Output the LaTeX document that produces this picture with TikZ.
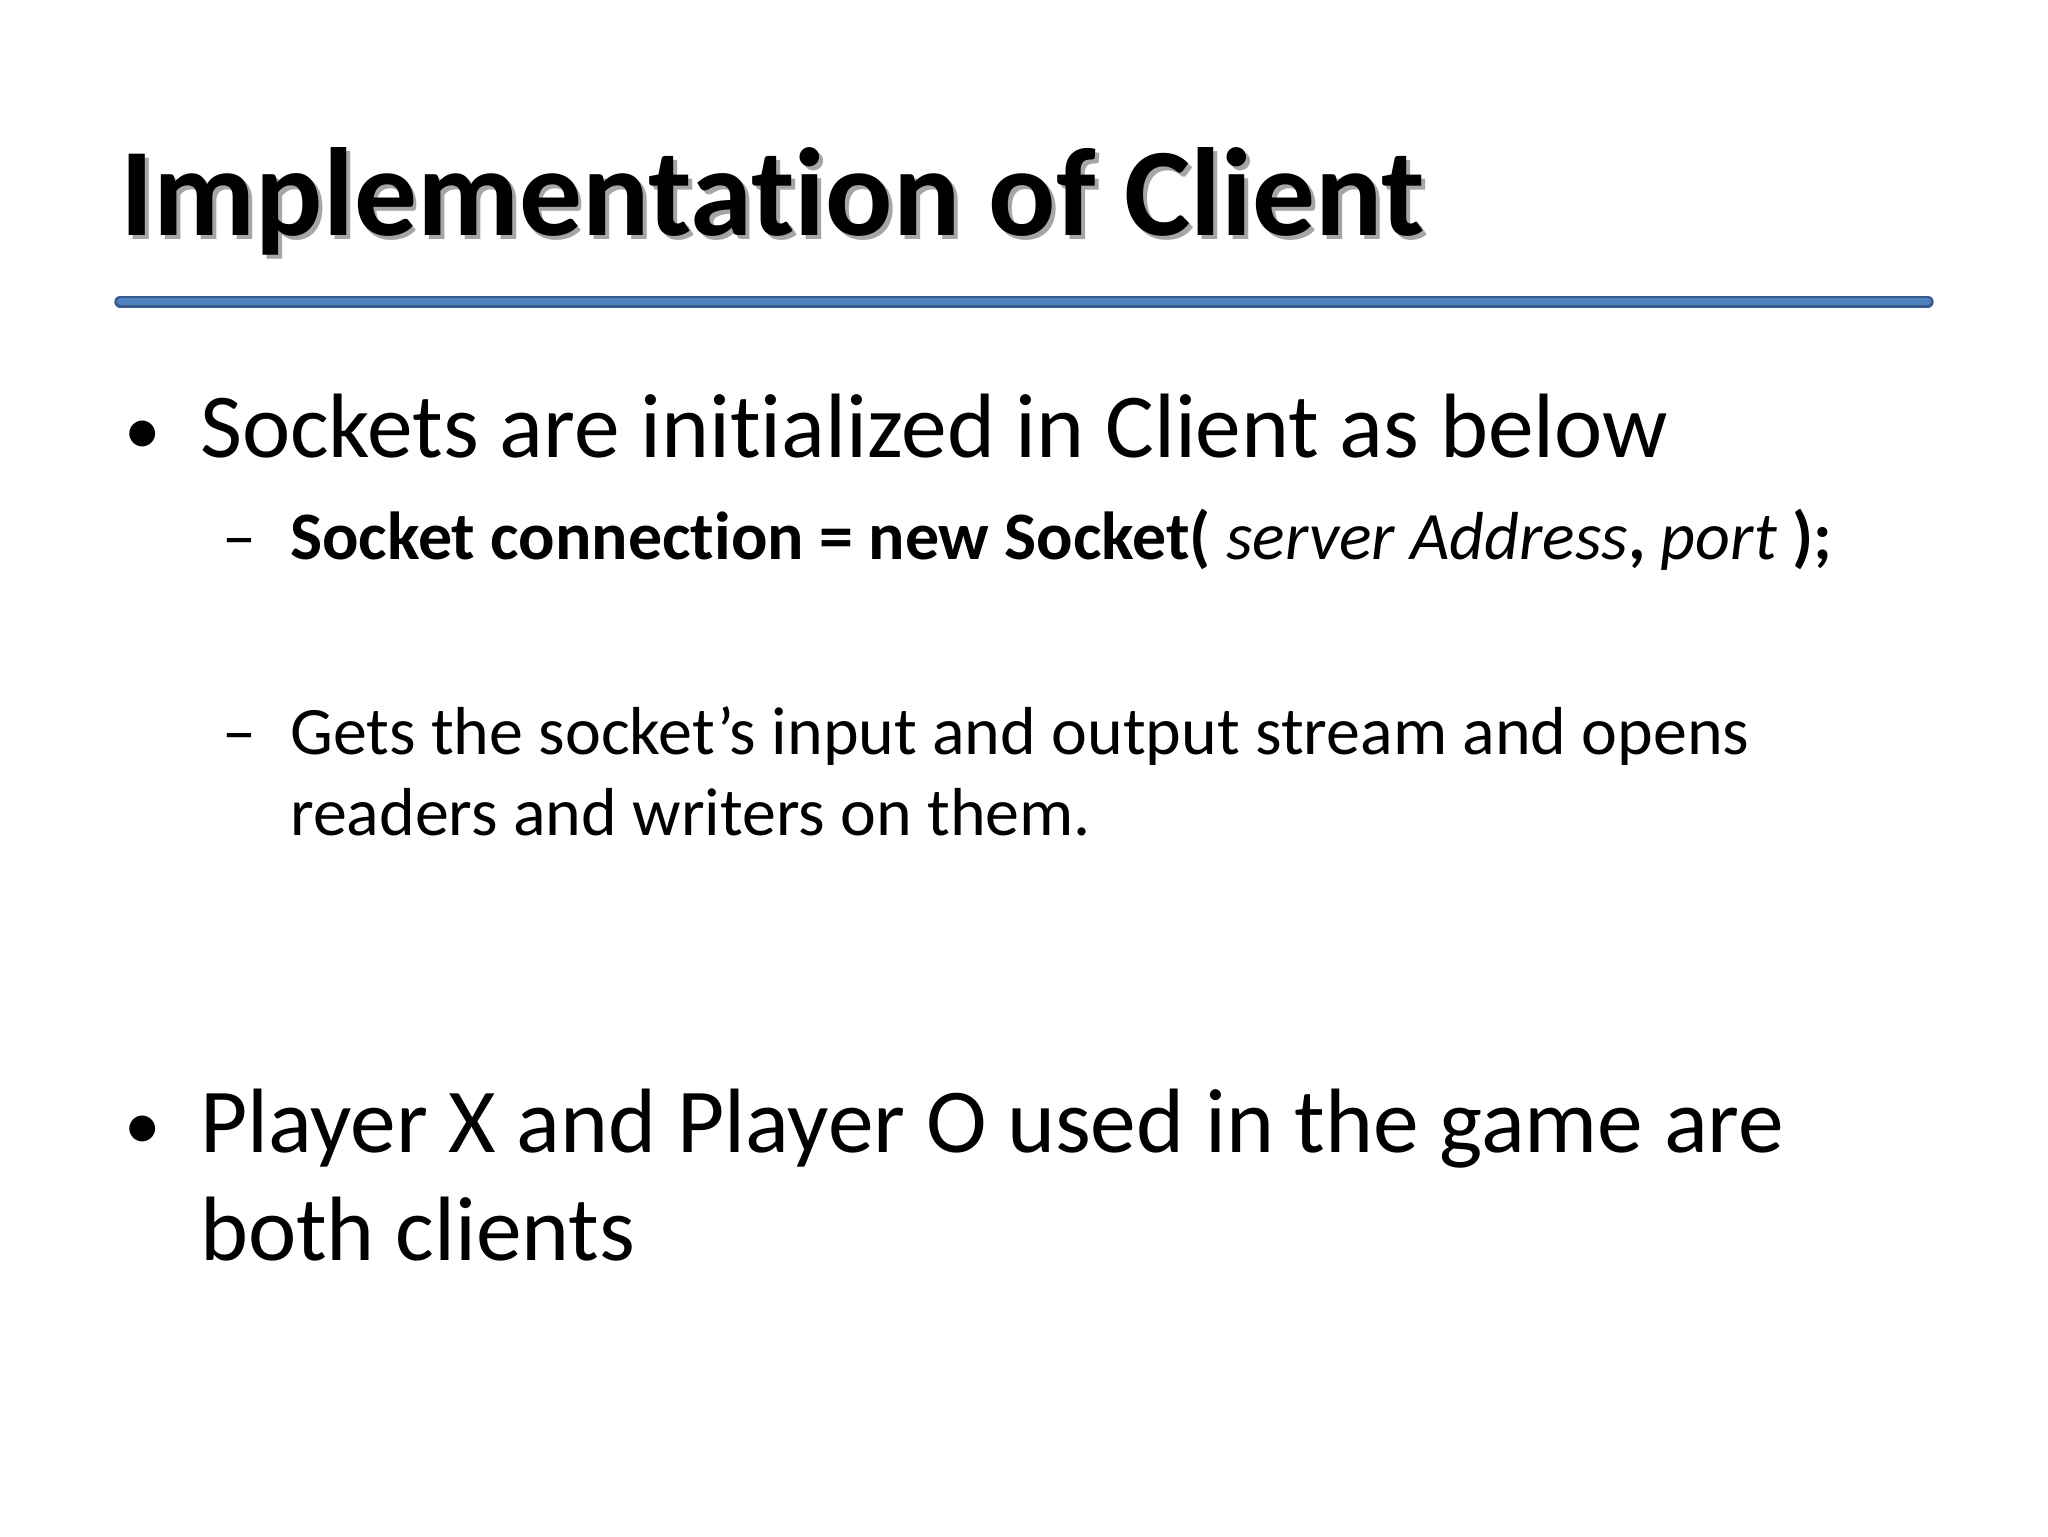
\documentclass[tikz,border=0pt]{standalone}
\usepackage{fontspec}
\setmainfont{Carlito}[Ligatures={NoCommon}]
\begin{document}
\begin{tikzpicture}[x=1pt,y=-1pt,
  txt/.style={anchor=base west,inner sep=0pt},
  big/.style={txt,font=\fontsize{70}{84}\selectfont},
  small/.style={txt,font=\fontsize{52}{62}\selectfont}]
\useasboundingbox (0,0) rectangle (1568,1176);
\fill[white] (0,0) rectangle (1568,1176);
\node[txt,font=\bfseries\fontsize{96}{110}\selectfont,text=black!35] at (95,183) {Implementation of Client};
\node[txt,font=\bfseries\fontsize{96}{110}\selectfont] (title) at (92,180) {Implementation of Client};
\draw[line width=9pt,line cap=round,color={rgb,255:red,55;green,90;blue,140}] (92,231) -- (1476,231);
\draw[line width=5pt,line cap=round,color={rgb,255:red,79;green,129;blue,189}] (92,231) -- (1476,231);
\node[txt,font=\fontsize{56}{60}\selectfont] (b1d) at (95,348) {•};
\node[big] (b1) at (153,350) {Sockets are initialized in Client as below};
\node[small] (s1d) at (170,428) {–};
\node[small] (s1) at (222,428) {\textbf{Socket connection = new Socket(} \textit{server Address}\textbf{,} \textit{port} \textbf{);}};
\node[small] (s2d) at (170,578) {–};
\node[small] (s2) at (222,578) {Gets the socket\symbol{39}s input and output stream and opens};
\node[small] (s3) at (222,640) {readers and writers on them.};
\node[txt,font=\fontsize{56}{60}\selectfont] (b2d) at (95,880) {•};
\node[big] (b2) at (153,882) {Player X and Player O used in the game are};
\node[big] (b3) at (153,965) {both clients};
\end{tikzpicture}
\end{document}
